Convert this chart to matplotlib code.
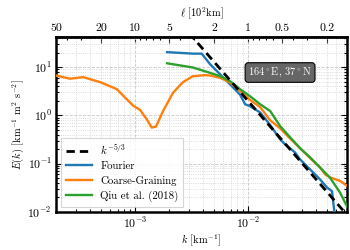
import numpy as np
import matplotlib
matplotlib.use("Agg")
import matplotlib.pyplot as plt
from matplotlib.ticker import FixedLocator, FixedFormatter, LogLocator, NullFormatter

plt.rcParams['font.family'] = ['cmr10', 'DejaVu Serif']
plt.rcParams['mathtext.fontset'] = 'cm'
plt.rcParams['axes.formatter.use_mathtext'] = True
plt.rcParams['axes.unicode_minus'] = False

# reference slope line
ref_k = [3.0e-3, 7.5e-2]
ref_E = [51.0, 8.7e-3]

# Fourier
four_k = [1.92e-3, 3.26e-3, 3.89e-3, 4.61e-3, 5.65e-3, 6.93e-3, 8.49e-3, 9.42e-3,
          1.04e-2, 1.28e-2, 1.57e-2, 1.92e-2, 2.13e-2, 2.61e-2, 2.88e-2, 3.54e-2,
          4.34e-2, 5.0e-2, 5.53e-2, 5.77e-2, 5.9e-2]
four_E = [20.4, 19.0, 19.0, 11.5, 7.1, 4.4, 2.7, 1.7,
          1.55, 1.15, 0.63, 0.32, 0.25, 0.17, 0.123, 0.076,
          0.047, 0.032, 0.027, 0.0112, 0.0063]

# Coarse-Graining
cg_k = [2.0e-4, 2.66e-4, 3.47e-4, 4.9e-4, 6.89e-4, 9.6e-4, 1.107e-3, 1.27e-3,
        1.406e-3, 1.535e-3, 1.77e-3, 2.17e-3, 2.66e-3, 3.26e-3, 4.17e-3, 4.61e-3,
        5.65e-3, 6.93e-3, 8.49e-3, 1.04e-2, 1.28e-2, 1.57e-2, 1.92e-2, 2.36e-2,
        2.88e-2, 3.54e-2, 4.34e-2, 4.81e-2, 5.32e-2, 6.52e-2, 7.52e-2]
cg_E = [6.7, 5.75, 6.2, 4.9, 3.5, 1.6, 1.3, 0.83,
        0.56, 0.59, 1.23, 2.95, 4.9, 6.5, 6.8, 6.7,
        6.0, 4.8, 3.2, 2.1, 1.48, 0.79, 0.54, 0.33,
        0.21, 0.13, 0.083, 0.060, 0.052, 0.044, 0.035]

# Qiu et al. (2018)
qiu_k = [1.92e-3, 3.26e-3, 4.61e-3, 5.65e-3, 6.93e-3, 8.49e-3, 1.04e-2, 1.28e-2,
         1.57e-2, 1.92e-2, 2.36e-2, 2.88e-2, 3.54e-2, 4.34e-2, 5.32e-2, 6.52e-2, 7.52e-2]
qiu_E = [12.0, 9.8, 7.6, 6.5, 5.1, 3.5, 2.5, 1.7,
         1.23, 0.60, 0.35, 0.21, 0.135, 0.083, 0.051, 0.025, 0.013]

top_ticks = [50, 20, 10, 5, 2, 1, 0.5, 0.2]
top_labels = ["50", "20", "10", "5", "2", "1", "0.5", "0.2"]
location_label = r"$164^\circ$E, $37^\circ$N"

fig = plt.figure(figsize=(3.5, 2.5), dpi=100)
ax = fig.add_axes([0.16, 0.152, 0.8314, 0.70])

ax.plot(ref_k, ref_E, color='black', ls=(0, (3.0, 1.8)), lw=2.0, label=r"$k^{-5/3}$", zorder=5)
ax.plot(four_k, four_E, color='#1f77b4', lw=1.7, label="Fourier", zorder=3)
ax.plot(cg_k, cg_E, color='#ff7f0e', lw=1.7, label="Coarse-Graining", zorder=3)
ax.plot(qiu_k, qiu_E, color='#2ca02c', lw=1.7, label="Qiu et al. (2018)", zorder=4)

ax.set_xscale('log')
ax.set_yscale('log')
ax.set_xlim(2e-4, 7.5e-2)
ax.set_ylim(1e-2, 42)

for s in ax.spines.values():
    s.set_linewidth(1.8)

ax.tick_params(which='both', direction='in', labelsize=8.5, right=True, width=0.8)
ax.tick_params(which='major', length=4, pad=3)
ax.tick_params(which='minor', length=2)

ax.grid(True, which='major', ls='--', color='#c8c8c8', lw=0.6)
ax.grid(True, which='minor', ls=':', color='#d0d0d0', lw=0.6)

ax.set_xlabel(r"$k$ [km$^{-1}$]", fontsize=7.5, labelpad=1)
ax.set_ylabel(r"$E(k)$ [km$^{-1}$ m$^2$ s$^{-2}$]", fontsize=7.5, labelpad=1)

sec = ax.secondary_xaxis('top', functions=(lambda k: 1.0 / (np.asarray(k) * 100.0),
                                           lambda l: 1.0 / (np.asarray(l) * 100.0)))
sec.xaxis.set_major_locator(FixedLocator(top_ticks))
sec.xaxis.set_major_formatter(FixedFormatter(top_labels))
sec.xaxis.set_minor_locator(LogLocator(base=10, subs=np.arange(2, 10) * 1.0, numticks=20))
sec.xaxis.set_minor_formatter(NullFormatter())
sec.tick_params(which='both', direction='in', labelsize=8.5, width=0.8)
sec.tick_params(which='major', length=4, pad=3)
sec.tick_params(which='minor', length=2)
sec.spines['top'].set_linewidth(1.8)
sec.set_xlabel(r"$\ell$ [10$^2$km]", fontsize=7.5, labelpad=4)

ax.text(0.77, 0.797, location_label, transform=ax.transAxes, ha='center', va='center',
        fontsize=7.5, color='white', zorder=10,
        bbox=dict(boxstyle='round,pad=0.3', facecolor='#666666', edgecolor='black', lw=0.8))

leg = ax.legend(loc='lower left', fontsize=7.8, frameon=True, fancybox=False,
                handlelength=2.4, borderpad=0.4, labelspacing=0.45, borderaxespad=0.5)
leg.get_frame().set_edgecolor('#cccccc')
leg.get_frame().set_linewidth(0.8)

fig.savefig("out.png", dpi=100)
